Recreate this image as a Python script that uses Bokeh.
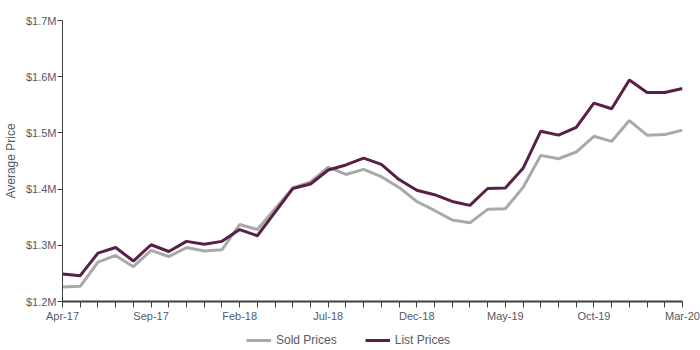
from bokeh.plotting import figure
from bokeh.layouts import column
from bokeh.models import Range1d, FixedTicker, Legend, LegendItem
from bokeh.embed import file_html
from bokeh.resources import INLINE

months = ["Apr-17","May-17","Jun-17","Jul-17","Aug-17","Sep-17","Oct-17","Nov-17","Dec-17",
          "Jan-18","Feb-18","Mar-18","Apr-18","May-18","Jun-18","Jul-18","Aug-18","Sep-18",
          "Oct-18","Nov-18","Dec-18","Jan-19","Feb-19","Mar-19","Apr-19","May-19","Jun-19",
          "Jul-19","Aug-19","Sep-19","Oct-19","Nov-19","Dec-19","Jan-20","Feb-20","Mar-20"]
sold_prices = [1226000,1227000,1270000,1282000,1262000,1291000,1280000,1296000,1290000,
               1292000,1337000,1328000,1365000,1402000,1413000,1439000,1426000,1435000,
               1422000,1403000,1378000,1362000,1345000,1340000,1364000,1365000,1403000,
               1460000,1454000,1466000,1494000,1485000,1522000,1496000,1497000,1505000]
list_prices = [1249000,1246000,1286000,1296000,1272000,1301000,1289000,1307000,1302000,
               1307000,1328000,1317000,1359000,1401000,1409000,1434000,1443000,1455000,
               1444000,1417000,1398000,1390000,1378000,1371000,1401000,1402000,1437000,
               1503000,1496000,1510000,1553000,1543000,1594000,1572000,1572000,1579000]
y_ticks = [1200000,1300000,1400000,1500000,1600000,1700000]
y_labels = ["$1.2M","$1.3M","$1.4M","$1.5M","$1.6M","$1.7M"]
series_names = ["Sold Prices", "List Prices"]
series_colors = ["#a9a9a9", "#5a1f47"]
series_values = [sold_prices, list_prices]

x = list(range(len(months)))
grey_txt = "#555a66"
axis_col = "#404040"

p = figure(width=700, height=325, output_backend="svg", toolbar_location=None,
           x_range=Range1d(0, len(months) - 1), y_range=Range1d(y_ticks[0], y_ticks[-1]),
           min_border_left=61, min_border_right=18, min_border_top=20, min_border_bottom=24)
p.outline_line_color = None
p.grid.visible = False
p.background_fill_color = "white"
p.border_fill_color = "white"

for vals, col in zip(series_values, series_colors):
    p.line(x, vals, line_color=col, line_width=3)

xa = p.xaxis[0]
xa.ticker = FixedTicker(ticks=x, minor_ticks=[])
xa.major_label_overrides = {i: (m if i % 5 == 0 else "") for i, m in enumerate(months)}
xa.axis_line_color = axis_col
xa.axis_line_width = 2
xa.major_tick_line_color = axis_col
xa.major_tick_line_width = 1
xa.major_tick_out = 6
xa.major_tick_in = 0
xa.major_label_text_color = grey_txt
xa.major_label_text_font = "Liberation Sans"
xa.major_label_text_font_size = "11px"
xa.major_label_standoff = 2

ya = p.yaxis[0]
ya.ticker = FixedTicker(ticks=y_ticks, minor_ticks=[])
ya.major_label_overrides = {t: l for t, l in zip(y_ticks, y_labels)}
ya.axis_line_color = axis_col
ya.major_tick_line_color = axis_col
ya.major_tick_line_width = 1
ya.major_tick_out = 5
ya.major_tick_in = 0
ya.major_label_text_color = grey_txt
ya.major_label_text_font = "Liberation Sans"
ya.major_label_text_font_size = "11px"
ya.major_label_standoff = 1
ya.axis_label = "Average Price"
ya.axis_label_text_font = "Liberation Sans"
ya.axis_label_text_font_style = "normal"
ya.axis_label_text_font_size = "12px"
ya.axis_label_text_color = grey_txt
ya.axis_label_standoff = 5

# legend strip below the chart (series drawn outside its visible ranges)
lg = figure(width=700, height=25, output_backend="svg", toolbar_location=None,
            x_range=Range1d(-10, -9), y_range=Range1d(0, 1),
            x_axis_location=None, y_axis_location=None,
            min_border_left=0, min_border_right=0, min_border_top=0, min_border_bottom=0)
lg.outline_line_color = None
lg.grid.visible = False
items = []
for name, vals, col in zip(series_names, series_values, series_colors):
    r = lg.line(x, vals, line_color=col, line_width=3)
    items.append(LegendItem(label=name, renderers=[r]))
legend = Legend(items=items, orientation="horizontal", location=(184, 0),
                label_text_font="Liberation Sans", label_text_font_size="12px",
                label_text_color=grey_txt, glyph_width=25, spacing=28,
                border_line_color=None, background_fill_alpha=0, padding=0, margin=0)
lg.add_layout(legend, "center")

layout = column(p, lg, spacing=0)
open("out.html", "w").write(file_html(layout, INLINE))
